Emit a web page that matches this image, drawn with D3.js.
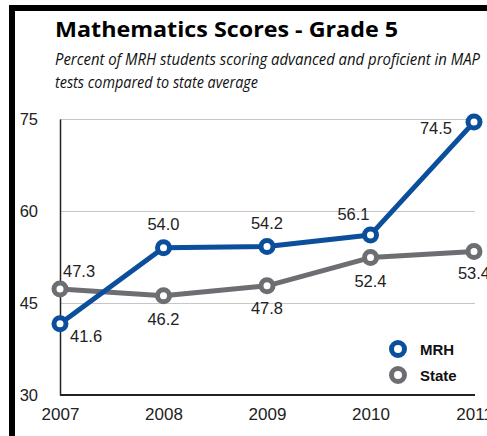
<!DOCTYPE html>
<html>
<head>
<meta charset="utf-8">
<script src="https://cdn.jsdelivr.net/npm/d3@7"></script>
<style>
  body { margin: 0; background: #fff; }
  svg { display: block; }
  .tick text { font-family: "Liberation Sans", Arial, sans-serif; fill: #222; }
</style>
</head>
<body>
<svg id="chart" width="487" height="436"></svg>
<script>
const years = [2007, 2008, 2009, 2010, 2011];
const mrh = [41.6, 54.0, 54.2, 56.1, 74.5];
const state = [47.3, 46.2, 47.8, 52.4, 53.4];
const yTicks = [30, 45, 60, 75];
const seriesNames = ['MRH', 'State'];

// label nudges per point: [dx, dy, anchor]
const mrhLabelPos = [[10, 18, 'start'], [0, -18, 'middle'], [0, -18, 'middle'], [-17, -15, 'middle'], [-22, 12, 'end']];
const stateLabelPos = [[3, -12, 'start'], [0, 29, 'middle'], [0, 28, 'middle'], [0, 29, 'middle'], [0, 28, 'middle']];

const blue = '#0b4f9c';
const grey = '#6d6e71';

var svg = d3.select('#chart');

// frame: thick black top and left edges
svg.append('rect').attr('x', 9).attr('y', 5).attr('width', 490).attr('height', 6).attr('fill', '#000');
svg.append('rect').attr('x', 9).attr('y', 5).attr('width', 6).attr('height', 440).attr('fill', '#000');

svg.append('text')
    .attr('x', 55).attr('y', 37)
    .attr('textLength', 343).attr('lengthAdjust', 'spacingAndGlyphs')
    .style('font-family', '"Open Sans", sans-serif')
    .style('font-weight', 'bold').style('font-size', '22px')
    .text('Mathematics Scores - Grade 5');

svg.append('text')
    .attr('x', 55).attr('y', 65)
    .attr('textLength', 425).attr('lengthAdjust', 'spacingAndGlyphs')
    .style('font-family', '"Liberation Sans Narrow", "Open Sans", sans-serif')
    .style('font-style', 'italic').style('font-size', '17px').style('fill', '#111')
    .text('Percent of MRH students scoring advanced and proficient in MAP');

svg.append('text')
    .attr('x', 55).attr('y', 88)
    .attr('textLength', 203).attr('lengthAdjust', 'spacingAndGlyphs')
    .style('font-family', '"Liberation Sans Narrow", "Open Sans", sans-serif')
    .style('font-style', 'italic').style('font-size', '17px').style('fill', '#111')
    .text('tests compared to state average');

var x = d3.scaleLinear()
    .domain([2007, 2011])
    .range([60, 474]);

var y = d3.scaleLinear()
    .domain([30, 75])
    .range([395, 119]);

// gridlines
svg.append('g')
    .attr('transform', 'translate(60,0)')
    .call(d3.axisRight(y).tickValues(yTicks.slice(1)).tickSize(415).tickFormat(''))
    .call(g => g.select('.domain').remove())
    .call(g => g.selectAll('line').attr('stroke', '#c6c6c6').attr('stroke-width', 1.2));

// y axis
svg.append('g')
    .attr('transform', 'translate(60,0)')
    .call(d3.axisLeft(y).tickValues(yTicks).tickSize(0).tickPadding(22))
    .call(g => g.select('.domain').attr('stroke', '#222').attr('stroke-width', 1.5))
    .call(g => g.selectAll('text').style('font-size', '16.5px'));

// x axis
svg.append('g')
    .attr('transform', 'translate(0,395)')
    .call(d3.axisBottom(x).tickValues(years).tickFormat(d3.format('d')).tickSize(0).tickPadding(13))
    .call(g => g.select('.domain').attr('stroke', '#222').attr('stroke-width', 2).attr('d', 'M60,0H475'))
    .call(g => g.selectAll('text').style('font-size', '17px'));

function drawSeries(values, color, labelPos) {
    var pts = values.map((v, i) => ({ year: years[i], v: v, pos: labelPos[i] }));
    var line = d3.line().x(d => x(d.year)).y(d => y(d.v));

    svg.append('path')
        .datum(pts)
        .attr('d', line)
        .attr('fill', 'none')
        .attr('stroke', color)
        .attr('stroke-width', 5)
        .attr('stroke-linejoin', 'round');

    svg.selectAll(null)
        .data(pts)
        .enter().append('circle')
        .attr('cx', d => x(d.year))
        .attr('cy', d => y(d.v))
        .attr('r', 6)
        .attr('fill', '#fff')
        .attr('stroke', color)
        .attr('stroke-width', 5);

    svg.selectAll(null)
        .data(pts)
        .enter().append('text')
        .attr('x', d => x(d.year) + d.pos[0])
        .attr('y', d => y(d.v) + d.pos[1])
        .attr('text-anchor', d => d.pos[2])
        .style('font-family', '"Liberation Sans", Arial, sans-serif')
        .style('font-size', '16.5px')
        .style('fill', '#222')
        .text(d => d3.format('.1f')(d.v));
}

drawSeries(state, grey, stateLabelPos);
drawSeries(mrh, blue, mrhLabelPos);

// legend
var legend = svg.append('g').attr('transform', 'translate(398,349)');
[blue, grey].forEach((c, i) => {
    var row = legend.append('g').attr('transform', 'translate(0,' + (i * 26) + ')');
    row.append('circle').attr('r', 6.5).attr('fill', '#fff').attr('stroke', c).attr('stroke-width', 5);
    row.append('text')
        .attr('x', 22).attr('y', 6)
        .style('font-family', '"Liberation Sans", Arial, sans-serif')
        .style('font-weight', 'bold').style('font-size', '15px')
        .style('fill', '#111')
        .text(seriesNames[i]);
});
</script>
</body>
</html>
